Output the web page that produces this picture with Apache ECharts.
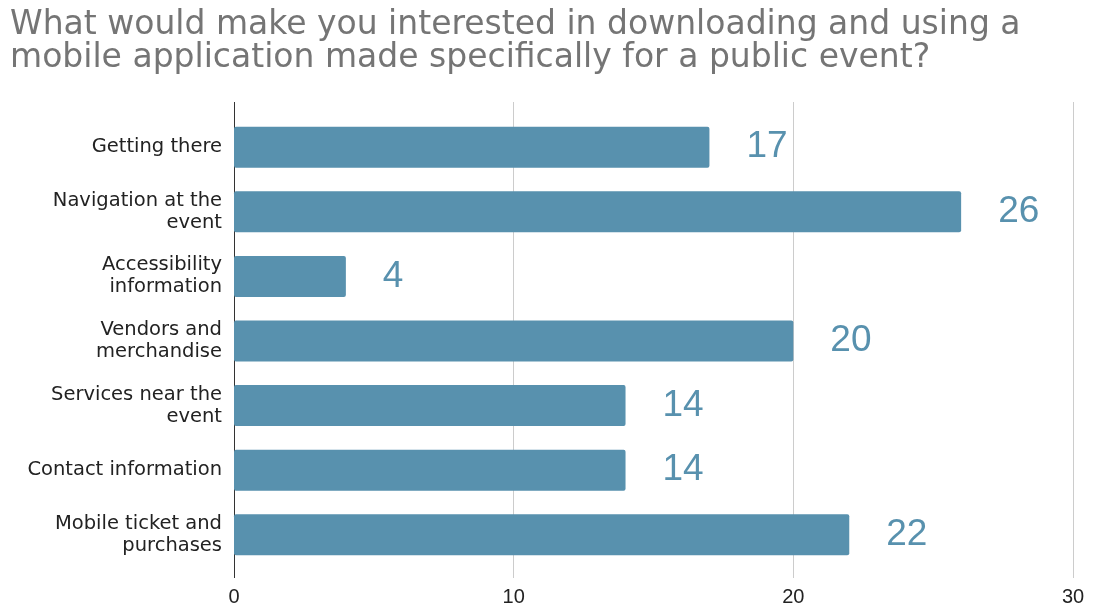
<!DOCTYPE html>
<html>
<head>
<meta charset="utf-8">
<script src="https://cdn.jsdelivr.net/npm/echarts@6/dist/echarts.min.js"></script>
<style>
html,body{margin:0;padding:0;background:#fff;}
#chart{width:1095px;height:609px;}
</style>
</head>
<body>
<div id="chart"></div>
<script>
const titleText = 'What would make you interested in downloading and using a\nmobile application made specifically for a public event?';
const categories = [
  'Getting there',
  'Navigation at the event',
  'Accessibility information',
  'Vendors and merchandise',
  'Services near the event',
  'Contact information',
  'Mobile ticket and purchases'
];
const values = [17, 26, 4, 20, 14, 14, 22];
const xTicks = [0, 10, 20, 30];

const barColor = '#5891ae';
const numFont = 'Arial, "Liberation Sans", sans-serif';
const textFont = '"DejaVu Sans", sans-serif';
const catFontSize = 19.5;
const catWrapWidth = 205;

// greedy word wrap using real text measurement
const measureCtx = document.createElement('canvas').getContext('2d');
function wrapLabel(s) {
  measureCtx.font = catFontSize + 'px ' + textFont;
  const words = s.split(' ');
  const lines = [];
  let cur = '';
  words.forEach(w => {
    const test = cur ? cur + ' ' + w : w;
    if (cur && measureCtx.measureText(test).width > catWrapWidth) {
      lines.push(cur);
      cur = w;
    } else {
      cur = test;
    }
  });
  if (cur) lines.push(cur);
  return lines.join('\n');
}

const chart = echarts.init(document.getElementById('chart'), null, {renderer: 'canvas'});
chart.setOption({
  animation: false,
  backgroundColor: '#ffffff',
  title: {
    text: titleText,
    left: 10,
    top: 9,
    padding: 0,
    textStyle: {fontFamily: textFont, fontSize: 33, fontWeight: 'normal', color: '#757575', lineHeight: 33}
  },
  grid: [
    {left: 234, right: 22, top: 102, bottom: 31},
    {left: 234, right: 22, top: 115, bottom: 42}
  ],
  xAxis: [
    {
      gridIndex: 0, type: 'value', min: xTicks[0], max: xTicks[xTicks.length - 1], interval: 10,
      axisLine: {show: false}, axisTick: {show: false},
      axisLabel: {fontFamily: numFont, fontSize: 20, color: '#222', margin: 9},
      splitLine: {show: true, lineStyle: {color: ['#333333', '#cccccc', '#cccccc', '#cccccc'], width: 1}}
    },
    {
      gridIndex: 1, type: 'value', min: xTicks[0], max: xTicks[xTicks.length - 1], interval: 10,
      show: false
    }
  ],
  yAxis: [
    {
      gridIndex: 0, type: 'category', data: categories, inverse: true,
      axisLine: {show: false}, axisTick: {show: false}, axisLabel: {show: false}, splitLine: {show: false}
    },
    {
      gridIndex: 1, type: 'category', data: categories, inverse: true,
      axisLine: {show: false}, axisTick: {show: false},
      axisLabel: {
        fontFamily: textFont, fontSize: catFontSize, color: '#222', margin: 12,
        lineHeight: 22, align: 'right',
        formatter: v => wrapLabel(v)
      }
    }
  ],
  series: [{
    type: 'bar',
    xAxisIndex: 1, yAxisIndex: 1,
    data: values,
    barWidth: 41,
    itemStyle: {color: barColor, borderRadius: 2},
    label: {
      show: true, position: 'right', distance: 37,
      fontFamily: numFont, fontSize: 37, color: barColor
    }
  }]
});
</script>
</body>
</html>
